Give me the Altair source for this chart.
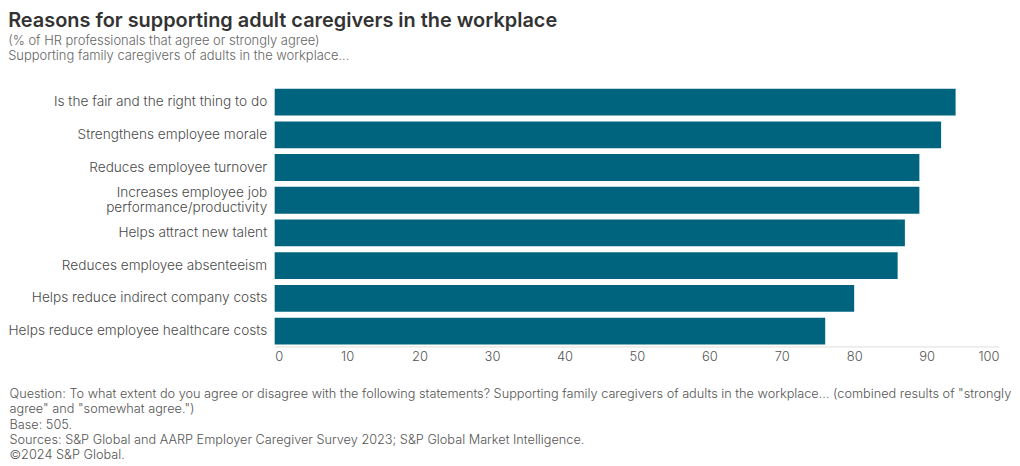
import altair as alt
import pandas as pd

categories = [
    "Is the fair and the right thing to do",
    "Strengthens employee morale",
    "Reduces employee turnover",
    "Increases employee job|performance/productivity",
    "Helps attract new talent",
    "Reduces employee absenteeism",
    "Helps reduce indirect company costs",
    "Helps reduce employee healthcare costs",
]
values = [94, 92, 89, 89, 87, 86, 80, 76]
x_ticks = [0, 10, 20, 30, 40, 50, 60, 70, 80, 90, 100]

title_text = "Reasons for supporting adult caregivers in the workplace"
subtitle_lines = [
    "(% of HR professionals that agree or strongly agree)",
    "Supporting family caregivers of adults in the workplace...",
]
footnote_lines = [
    'Question: To what extent do you agree or disagree with the following statements? Supporting family caregivers of adults in the workplace... (combined results of "strongly',
    'agree" and "somewhat agree.")',
    "Base: 505.",
    "Sources: S&P Global and AARP Employer Caregiver Survey 2023; S&P Global Market Intelligence.",
    "\u00a92024 S&P Global.",
]

df = pd.DataFrame({"reason": categories, "value": values})

FONT = "Inter"
BAR = "#00647f"

chart = (
    alt.Chart(df)
    .mark_bar(color=BAR)
    .encode(
        x=alt.X(
            "value:Q",
            scale=alt.Scale(domain=[0, 100], nice=False),
            axis=alt.Axis(
                values=x_ticks,
                grid=False,
                ticks=False,
                domain=True,
                domainColor="#dddddd",
                labelColor="#555555",
                labelFontSize=13,
                labelFont=FONT,
                labelFontWeight=300,
                labelPadding=4,
                title=footnote_lines,
                titleFont=FONT,
                titleFontSize=12.8,
                titleFontWeight=300,
                titleColor="#555555",
                titleAnchor="start",
                titleAlign="left",
                titleBaseline="top",
                titleLineHeight=15.5,
                titleX=-267,
                titleY=41,
            ),
        ),
        y=alt.Y(
            "reason:N",
            sort=categories,
            scale=alt.Scale(paddingInner=0.18, paddingOuter=0.06),
            axis=alt.Axis(
                title=None,
                ticks=False,
                domain=False,
                labelColor="#4a4a4a",
                labelFontSize=13.7,
                labelFont=FONT,
                labelFontWeight=300,
                labelPadding=8,
                labelLimit=400,
                labelLineHeight=15,
                labelExpr="split(datum.label, '|')",
                labelOffset={
                    "condition": {
                        "test": "indexof(datum.value, '|') >= 0",
                        "value": -7.5,
                    },
                    "value": 0,
                },
            ),
        ),
    )
    .properties(
        width=728,
        height=261,
        padding={"left": 0, "right": 0, "top": 2, "bottom": 0},
        title=alt.TitleParams(
            text=title_text,
            subtitle=subtitle_lines,
            anchor="start",
            font=FONT,
            fontSize=20,
            fontWeight=600,
            color="#333333",
            subtitleFont=FONT,
            subtitleFontSize=13,
            subtitleFontWeight=300,
            subtitleColor="#666666",
            subtitleLineHeight=15,
            subtitlePadding=4,
            offset=24,
        ),
    )
    .configure_view(stroke=None)
)

chart.save("out.html", embed_options={"renderer": "svg", "actions": False})
